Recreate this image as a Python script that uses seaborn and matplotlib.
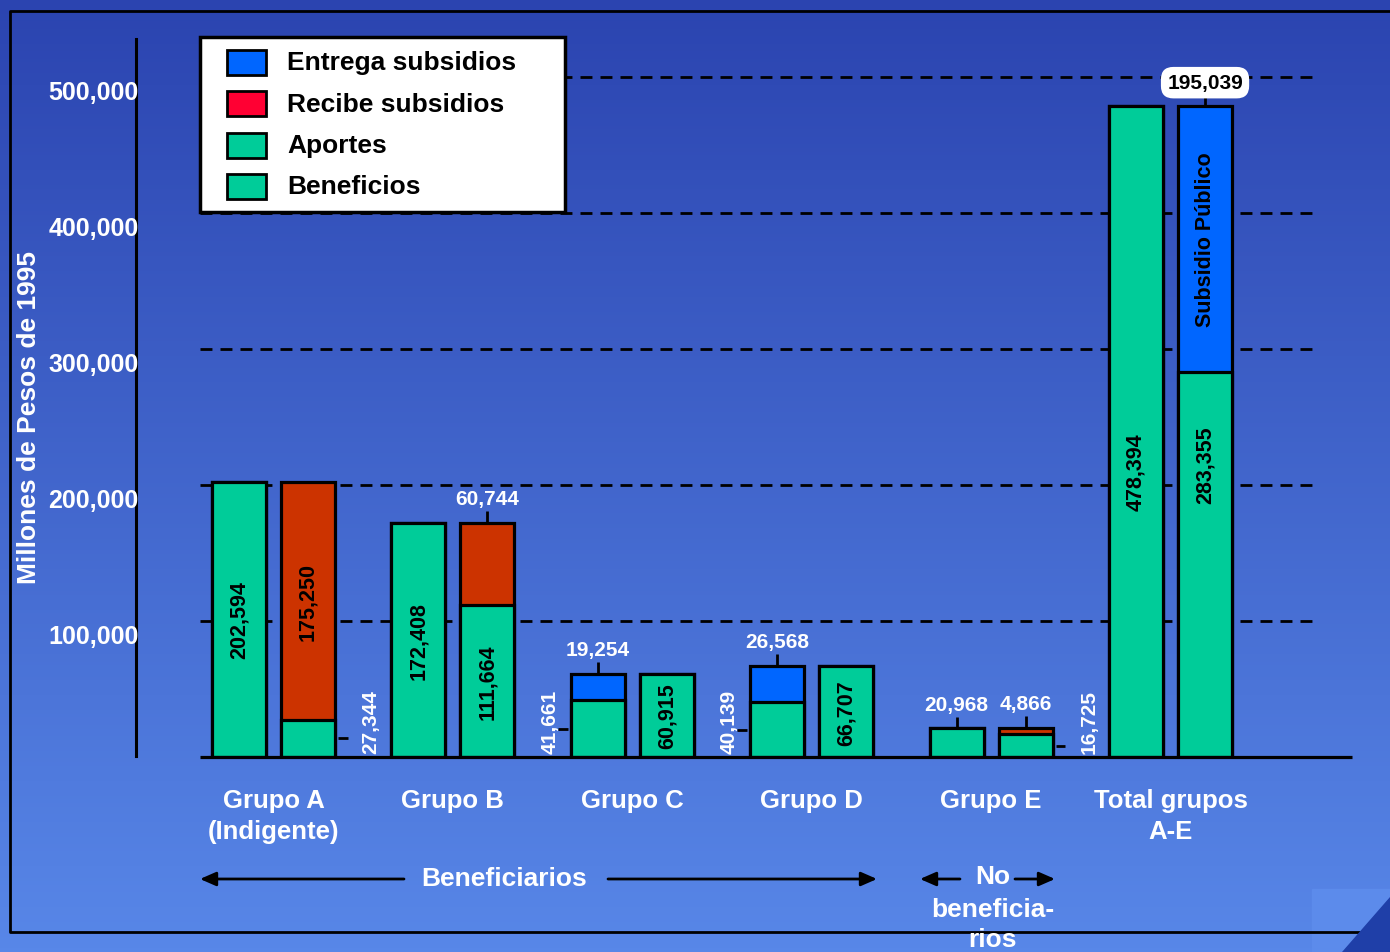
import numpy as np
import pandas as pd
import seaborn as sns
import matplotlib.pyplot as plt
from matplotlib.patches import Rectangle, Polygon
from matplotlib.lines import Line2D
import matplotlib.transforms as mtransforms

# data (millones de pesos de 1995)
GRUPOS = ["Grupo A\n(Indigente)", "Grupo B", "Grupo C", "Grupo D", "Grupo E", "Total grupos\nA-E"]
# first bar of each pair: green base + top segment
BAR1_BASE = [202594, 172408, 41661, 40139, 20968, 478394]
BAR1_TOP = [0, 0, 19254, 26568, 0, 0]
BAR1_TOP_KIND = ["", "", "entrega", "entrega", "", ""]
# second bar of each pair
BAR2_BASE = [27344, 111664, 60915, 66707, 16725, 283355]
BAR2_TOP = [175250, 60744, 0, 0, 4866, 195039]
BAR2_TOP_KIND = ["recibe", "recibe", "", "", "recibe", "entrega"]

LEGEND_LABELS = ["Entrega subsidios", "Recibe subsidios", "Aportes", "Beneficios"]
YTICKS = [100000, 200000, 300000, 400000, 500000]

GREEN = "#00CC99"
BLUE = "#0066FF"
RED_BAR = "#CC3300"
RED_LEG = "#FF0033"
TOP_COLORS = {"entrega": BLUE, "recibe": RED_BAR, "": GREEN}
LEGEND_COLORS = [BLUE, RED_LEG, GREEN, GREEN]

W, H = 1390, 953
FONT = ["Liberation Sans", "DejaVu Sans"]

sns.set_theme(style="white")
plt.rcParams["font.family"] = FONT
plt.rcParams["font.weight"] = "bold"

fig = plt.figure(figsize=(W / 100, H / 100), dpi=100)

# gradient background
bg = fig.add_axes([0, 0, 1, 1], zorder=-10)
top_c = np.array([43, 68, 176]) / 255
bot_c = np.array([88, 135, 232]) / 255
t = np.linspace(0, 1, 256)[:, None]
grad = top_c[None, :] * (1 - t) + bot_c[None, :] * t
bg.imshow(grad[:, None, :], aspect="auto", extent=[0, 1, 0, 1])
bg.set_axis_off()


def fx(px):
    return px / W


def fy(py):
    return 1 - py / H


# main axes: x pixel 136..1352, y pixel 758 (0) .. 40
ax = fig.add_axes([fx(136), fy(758), fx(1352) - fx(136), fy(40) - fy(758)])
ax.patch.set_alpha(0)

rows = []
for i, g in enumerate(GRUPOS):
    rows.append({"grupo": g, "barra": "1", "total": BAR1_BASE[i] + BAR1_TOP[i], "base": BAR1_BASE[i]})
    rows.append({"grupo": g, "barra": "2", "total": BAR2_BASE[i] + BAR2_TOP[i], "base": BAR2_BASE[i]})
df = pd.DataFrame(rows)

common = dict(data=df, x="grupo", hue="barra", order=GRUPOS, hue_order=["1", "2"],
              width=0.77, gap=0.22, errorbar=None, legend=False, ax=ax,
              edgecolor="black", linewidth=2.3, palette=[GREEN, GREEN])
sns.barplot(y="total", zorder=3, **common)
n_total = len(ax.patches)
for p in ax.patches:
    cx = p.get_x() + p.get_width() / 2
    gi = int(round(cx))
    kinds = BAR1_TOP_KIND if cx < gi else BAR2_TOP_KIND
    p.set_facecolor(TOP_COLORS[kinds[gi]])
sns.barplot(y="base", zorder=4, **common)
for p in ax.patches[n_total:]:
    p.set_facecolor(GREEN)

XMIN, XMAX = (136 - 273.5) / 179.4, (1352 - 273.5) / 179.4
ax.set_xlim(XMIN, XMAX)
ax.set_ylim(0, 528000)

# dashed grid lines
gx0 = (200 - 273.5) / 179.4
gx1 = (1312 - 273.5) / 179.4
ax.hlines(YTICKS, gx0, gx1, colors="black", linewidth=2, linestyles=(0, (4.3, 2.9)), zorder=1)
ax.hlines(0, gx0, XMAX, colors="black", linewidth=2.3, zorder=5, clip_on=False)

# spines
for s in ["top", "right", "bottom"]:
    ax.spines[s].set_visible(False)
ax.spines["left"].set_color("black")
ax.spines["left"].set_linewidth(2.2)
ax.spines["left"].set_bounds(600, 528000)
ax.spines["left"].set_zorder(0.5)

ax.set_yticks(YTICKS)
ax.set_yticklabels([f"{v:,}" for v in YTICKS], color="white", fontsize=18, fontweight="bold")
ax.tick_params(axis="y", length=0, pad=-2)
off = mtransforms.ScaledTranslation(0, -12 / 100, fig.dpi_scale_trans)
for lab in ax.get_yticklabels():
    lab.set_transform(lab.get_transform() + off)
    lab.set_zorder(6)

ax.set_xticks(range(len(GRUPOS)))
ax.set_xticklabels(GRUPOS, color="white", fontsize=18.5, fontweight="bold", linespacing=1.4)
ax.tick_params(axis="x", length=0, pad=22)
ax.set_xlabel("")
ax.set_ylabel("")

fig.text(fx(29), fy(417), "Millones de Pesos de 1995", rotation=90, color="white",
         fontsize=19, fontweight="bold", ha="center", va="center")

OFF = 0.1925
HW = 0.15
TICKW = 0.055

def inside(x, y, s, **kw):
    ax.text(x, y, s, rotation=90, ha="center", va="center", color="black",
            fontsize=15.5, fontweight="bold", zorder=6, **kw)

# labels inside bars
inside(0 - OFF, BAR1_BASE[0] / 2, f"{BAR1_BASE[0]:,}")
inside(0 + OFF, BAR2_BASE[0] + BAR2_TOP[0] / 2, f"{BAR2_TOP[0]:,}")
inside(1 - OFF, BAR1_BASE[1] / 2, f"{BAR1_BASE[1]:,}")
inside(1 + OFF, BAR2_BASE[1] / 2, f"{BAR2_BASE[1]:,}")
inside(2 + OFF, BAR2_BASE[2] / 2, f"{BAR2_BASE[2]:,}")
inside(3 + OFF, BAR2_BASE[3] / 2, f"{BAR2_BASE[3]:,}")
inside(5 - OFF, 210000, f"{BAR1_BASE[5]:,}")
inside(5 + OFF, 215000, f"{BAR2_BASE[5]:,}")
inside(5 + OFF, BAR2_BASE[5] + BAR2_TOP[5] / 2, "Subsidio Público")

# labels above bars (white, with a small tick)
def above(x, top, s):
    ax.vlines(x, top, top + 8800, colors="black", linewidth=2, zorder=6)
    ax.text(x, top + 11000, s, ha="center", va="bottom", color="white",
            fontsize=15, fontweight="bold", zorder=6)

above(1 + OFF, BAR2_BASE[1] + BAR2_TOP[1], f"{BAR2_TOP[1]:,}")
above(2 - OFF, BAR1_BASE[2] + BAR1_TOP[2], f"{BAR1_TOP[2]:,}")
above(3 - OFF, BAR1_BASE[3] + BAR1_TOP[3], f"{BAR1_TOP[3]:,}")
above(4 - OFF, BAR1_BASE[4], f"{BAR1_BASE[4]:,}")
above(4 + OFF, BAR2_BASE[4] + BAR2_TOP[4], f"{BAR2_TOP[4]:,}")

# labels beside bars (rotated, white)
def beside(xbar, side, val):
    edge = xbar + side * (HW + 0.017)
    ax.hlines(val / 2, edge, edge + side * TICKW, colors="black", linewidth=2, zorder=6)
    tx = edge + side * (TICKW + 0.13) if side > 0 else edge - 0.1
    ax.text(tx, 3000, f"{val:,}", rotation=90, ha="center", va="bottom", color="white",
            fontsize=15, fontweight="bold", zorder=6)

beside(0 + OFF, 1, BAR2_BASE[0])
beside(2 - OFF, -1, BAR1_BASE[2])
beside(3 - OFF, -1, BAR1_BASE[3])
beside(4 + OFF, 1, BAR2_BASE[4])

# boxed total subsidy label
ttop = BAR2_BASE[5] + BAR2_TOP[5]
ax.vlines(5 + OFF, ttop, ttop + 9000, colors="black", linewidth=2, zorder=6)
ax.text(5 + OFF, ttop + 17500, f"{BAR2_TOP[5]:,}", ha="center", va="center", color="black",
        fontsize=15, fontweight="bold", zorder=7,
        bbox=dict(boxstyle="round,pad=0.3,rounding_size=0.6", fc="white", ec="none"))

# legend box drawn in figure pixels
fig.add_artist(Rectangle((fx(200), fy(213)), fx(365), fy(38) - fy(213), facecolor="white",
                         edgecolor="black", linewidth=2.5, transform=fig.transFigure, zorder=10))
for k, (lab, col) in enumerate(zip(LEGEND_LABELS, LEGEND_COLORS)):
    yc = 63 + k * 41.5
    fig.add_artist(Rectangle((fx(227), fy(yc + 12.5)), fx(39), fy(yc - 12.5) - fy(yc + 12.5),
                             facecolor=col, edgecolor="black", linewidth=2,
                             transform=fig.transFigure, zorder=11))
    fig.text(fx(287), fy(yc), lab, color="black", fontsize=19, fontweight="bold",
             ha="left", va="center", zorder=12)

# bottom annotation row
def fig_arrow(x0, x1, y):
    ax.annotate("", xy=(x1, H - y), xytext=(x0, H - y),
                xycoords="figure pixels", textcoords="figure pixels",
                arrowprops=dict(arrowstyle="-|>,head_length=0.8,head_width=0.35",
                                color="black", lw=2, shrinkA=0, shrinkB=0))

fig_arrow(404, 200, 880)
fig_arrow(608, 877, 880)
fig_arrow(960, 920, 880)
fig_arrow(1015, 1055, 880)
fig.text(fx(504), fy(879), "Beneficiarios", color="white", fontsize=19,
         fontweight="bold", ha="center", va="center")
fig.text(fx(993), fy(877), "No", color="white", fontsize=19,
         fontweight="bold", ha="center", va="center", zorder=20)
fig.text(fx(993), fy(925), "beneficia-\nrios", color="white", fontsize=19,
         fontweight="bold", ha="center", va="center", linespacing=1.3, zorder=20)

# outer frame
fig.add_artist(Line2D([fx(1400), fx(10), fx(10), fx(1400)], [fy(12), fy(12), fy(933), fy(933)],
                      color="black", lw=2, transform=fig.transFigure, zorder=5))

# corner decoration
fig.add_artist(Rectangle((fx(1312), fy(953)), fx(78), fy(890) - fy(953), color="#5C8BEB",
                         transform=fig.transFigure, zorder=4))
fig.add_artist(Polygon([(fx(1390), fy(898)), (fx(1390), fy(953)), (fx(1342), fy(953))],
                       closed=True, color="#1F3FA8", transform=fig.transFigure, zorder=6))

fig.savefig("out.png", dpi=100)
